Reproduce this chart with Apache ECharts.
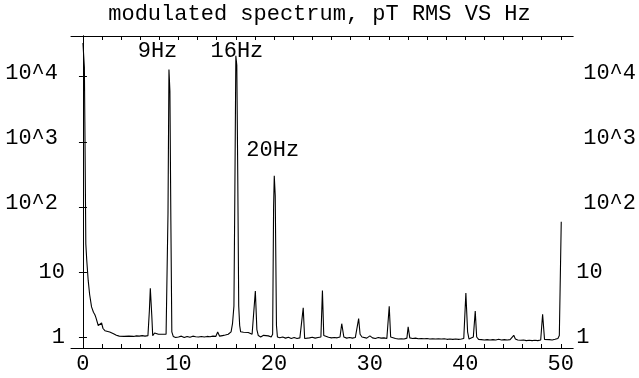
<!DOCTYPE html>
<html><head><meta charset="utf-8">
<script src="https://cdn.jsdelivr.net/npm/echarts@6/dist/echarts.min.js"></script>
<style>html,body{margin:0;padding:0;background:#fff}#c{width:639px;height:378px}</style>
</head><body><div id="c"></div>
<script>
const titleText = 'modulated spectrum, pT RMS VS Hz';
const freqs = [
0.0,0.15,0.2,0.3,0.4,0.55,0.7,0.9,1.1,1.25,1.35,1.45,1.6,1.75,1.95,2.1,2.3,2.5,2.8,3.0,3.2,3.5,3.8,4.0,4.3,4.5,4.8,5.0,5.3,5.6,5.9,6.2,6.5,6.8,
6.95,7.05,7.2,7.3,7.5,7.7,7.9,8.1,8.3,8.5,8.7,8.8,8.9,9.0,9.1,9.2,9.3,9.45,9.7,10.0,10.3,10.6,10.9,11.2,11.5,11.8,12.1,12.4,12.7,13.0,13.3,13.6,13.9,14.1,14.3,14.6,14.9,15.2,15.5,15.65,15.8,
15.9,16.0,16.1,16.2,16.3,16.4,16.5,16.8,17.0,17.3,17.5,17.7,17.85,18.04,18.2,18.35,18.6,18.9,19.1,19.4,19.7,19.85,19.95,20.02,20.12,20.25,20.35,20.6,20.9,21.2,21.5,21.8,22.1,22.4,22.7,22.9,
23.05,23.2,23.4,23.7,24.0,24.3,24.6,24.9,25.06,25.2,25.4,25.7,26.0,26.3,26.6,26.9,27.08,27.3,27.6,27.9,28.2,28.5,28.7,28.85,29.0,29.2,29.4,29.7,30.03,30.3,30.6,30.9,31.2,31.5,31.8,31.95,
32.05,32.2,32.4,32.7,33.0,33.3,33.6,33.9,34.03,34.2,34.5,34.8,35.1,35.4,35.7,36.0,36.3,36.6,36.9,37.2,37.5,37.8,38.1,38.4,38.7,39.0,39.3,39.6,39.85,40.07,40.25,40.4,40.6,40.85,41.05,41.2,
41.4,41.7,42.0,42.3,42.6,42.9,43.2,43.5,43.8,44.1,44.4,44.7,44.9,45.08,45.25,45.5,45.8,46.1,46.4,46.7,47.0,47.3,47.6,47.9,48.1,48.3,48.5,48.8,49.1,49.4,49.7,49.85,50.05
];
const amps = [
33000,14000,2000,27,15,7.4,4.5,2.9,2.4,2.2,2.0,1.9,1.5,1.45,1.64,1.35,1.25,1.2,1.19,1.15,1.12,1.06,1.03,1.05,1.02,1.06,1.03,1.04,1.02,1.04,1.03,1.05,1.03,1.05,
2.5,5.6,2.2,1.05,1.15,1.08,1.1,1.06,1.1,1.08,1.1,1.05,80,12900,6000,60,1.2,1.02,0.98,1.0,1.03,0.98,1.02,0.99,1.03,1.01,1.0,1.02,1.0,1.02,1.01,1.03,1.02,1.19,1.03,1.05,1.07,1.1,1.2,1.6,3,
200,21000,15000,300,3,1.5,1.2,1.18,1.15,1.17,1.12,1.1,1.15,5.1,1.3,1.05,1.0,1.06,1.0,1.04,1.0,1.1,100,300,150,1.5,1.0,0.97,1.0,0.96,0.99,0.95,0.98,0.95,0.97,1.0,
2.8,0.95,0.97,0.97,0.99,0.96,0.98,1.0,5.2,1.05,0.98,0.99,0.97,0.98,0.97,1.0,1.6,1.0,0.96,0.98,0.96,0.98,1.0,1.92,1.1,1.0,0.97,0.96,1.04,0.97,0.95,0.98,0.96,0.97,0.95,1.0,
2.96,1.0,0.94,0.95,0.93,0.94,0.93,0.96,1.43,0.97,0.95,0.96,0.94,0.95,0.94,0.95,0.93,0.94,0.93,0.94,0.93,0.94,0.92,0.93,0.92,0.93,0.92,0.93,0.95,4.75,1.2,0.93,0.95,1.0,2.5,1.0,
0.92,0.91,0.9,0.91,0.9,0.91,0.9,0.92,0.9,0.91,0.9,0.91,0.93,1.06,0.93,0.9,0.89,0.9,0.88,0.89,0.88,0.89,0.88,0.9,2.23,0.92,0.9,0.91,0.9,0.92,0.95,1.05,59
];
const xLabelValues = [0,10,20,30,40,50];
const xTickValues = [0,2,4,6,8,10,12,14,16,18,20,22,24,26,28,30,32,34,36,38,40,42,44,46,48,50];
const yTickValues = [1,10,100,1000,10000];
const yTickText = ['1','10','10^2','10^3','10^4'];
const annoText = ['9Hz','16Hz','20Hz'];
const annoX = [7.8,16.11,19.86];
const annoY = [24850,24850,745];

const FONT = 'Liberation Mono, Courier New, monospace';
const FS = 22;
const X_MIN = -1.25, X_MAX = 51.3, Y_MIN = 0.677, Y_MAX = 42300;

function yFmt(side) {
  return function (v) {
    for (let i = 0; i < yTickValues.length; i++) {
      if (Math.abs(Math.log10(v) - Math.log10(yTickValues[i])) < 1e-6) {
        return (i >= 2 ? '{e|' : '{n|') + yTickText[i] + '}';
      }
    }
    return '';
  };
}
function xFmt(v) { return xLabelValues.indexOf(v) >= 0 ? String(v) : ''; }

const chart = echarts.init(document.getElementById('c'), null, {renderer: 'canvas'});
const lineStyle = {color: '#000', width: 1};
const yAxisCommon = (pos) => ({
  type: 'log', logBase: 10, min: Y_MIN, max: Y_MAX, position: pos,
  axisLine: {show: true, lineStyle: lineStyle},
  axisTick: {show: true, inside: true, length: 4, lineStyle: lineStyle},
  splitLine: {show: false},
  axisLabel: {
    show: true, formatter: yFmt(pos), margin: pos === 'left' ? 6 : 3,
    color: '#000', fontFamily: FONT, fontSize: FS,
    rich: {
      n: {fontFamily: FONT, fontSize: FS, color: '#000'},
      e: {fontFamily: FONT, fontSize: FS, color: '#000',
          padding: pos === 'left' ? [0, 7, 8, 0] : [0, 0, 8, 7]}
    }
  }
});
const xAxisCommon = (pos, labels) => ({
  type: 'value', min: X_MIN, max: X_MAX, position: pos,
  axisLine: {show: true, onZero: false, lineStyle: lineStyle},
  axisTick: {show: true, inside: true, length: 4, lineStyle: lineStyle, customValues: xTickValues},
  splitLine: {show: false},
  axisLabel: {show: labels, customValues: xLabelValues, formatter: xFmt, margin: 5,
    color: '#000', fontFamily: FONT, fontSize: FS}
});

chart.setOption({
  animation: false,
  backgroundColor: '#fff',
  title: {text: titleText, left: 'center', top: -2,
    textStyle: {fontFamily: FONT, fontSize: FS, fontWeight: 'normal', color: '#000'}},
  grid: {left: 71, right: 64, top: 36, bottom: 30, containLabel: false},
  xAxis: [xAxisCommon('bottom', true), xAxisCommon('top', false)],
  yAxis: [yAxisCommon('left'), yAxisCommon('right')],
  series: [
    {type: 'line', xAxisIndex: 0, yAxisIndex: 0, symbol: 'none', showSymbol: false,
     lineStyle: {color: '#000', width: 1.1}, itemStyle: {color: '#000'},
     data: freqs.map((f, i) => [f, amps[i]])},
    {type: 'scatter', xAxisIndex: 0, yAxisIndex: 0, symbolSize: 0, silent: true,
     itemStyle: {opacity: 1, color: '#000'},
     label: {show: true, position: 'inside', formatter: p => p.data.name, opacity: 1,
       fontFamily: FONT, fontSize: FS, color: '#000'},
     data: annoText.map((t, i) => ({name: t, value: [annoX[i], annoY[i]]}))}
  ]
});
</script>
</body></html>
